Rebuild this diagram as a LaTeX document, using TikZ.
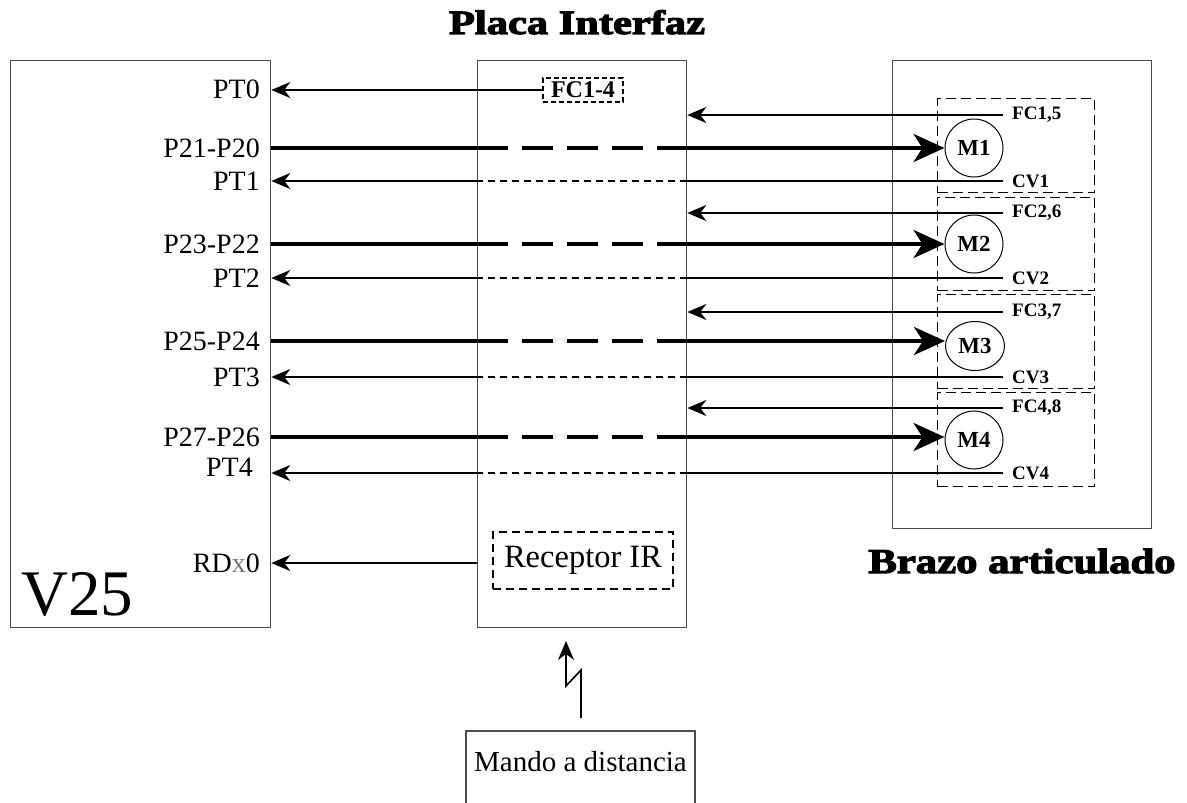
\documentclass[tikz,border=0pt]{standalone}
\usepackage{fontspec}
\usepackage{graphicx}
\setmainfont{Liberation Serif}
\newfontfamily\titlefont{Liberation Serif Bold}[FakeBold=3]
\usetikzlibrary{arrows.meta,shapes.geometric}
\newcommand\portfont{\fontsize{28}{30}\selectfont}
\newcommand\sigfont{\bfseries\fontsize{19}{21}\selectfont}
\newcommand\motfont{\bfseries\fontsize{23}{26}\selectfont}
\newcommand\fcfont{\bfseries\fontsize{24}{26}\selectfont}
\newcommand\recfont{\fontsize{32.5}{35}\selectfont}
\newcommand\manfont{\fontsize{29}{32}\selectfont}
\tikzset{
 frame/.style={draw=black!70, line width=1.3, inner sep=0, anchor=north west},
 port/.style={anchor=east, inner xsep=10, inner ysep=0, font=\portfont},
 sig/.style={anchor=west, inner xsep=9, inner ysep=0, font=\sigfont},
 thinw/.style={line width=1.8},
 thickw/.style={line width=3.4},
 thindash/.style={line width=1.1, dash pattern=on 7 off 5},
 thickdash/.style={line width=3.4, dash pattern=on 31 off 14},
 sarr/.style={-{Stealth[length=19,width=16,inset=6]}},
 barr/.style={-{Stealth[length=31,width=28,inset=9]}},
 motor/.style={draw, line width=1, circle, minimum size=58, inner sep=0, font=\motfont},
 mbox/.style={draw, line width=1.1, dash pattern=on 10 off 5, inner sep=0, anchor=north west, minimum width=157},
}
\begin{document}
\begin{tikzpicture}[x=1pt,y=-1pt]
\useasboundingbox (0,0) rectangle (1187,803);
% main frames
\node[frame, minimum width=260, minimum height=567] (v25) at (10,60) {};
\node[frame, minimum width=209, minimum height=567] (placa) at (477,60) {};
\node[frame, minimum width=259, minimum height=468] (brazo) at (892,60) {};
% titles
\node[anchor=base, inner sep=0, font=\titlefont\fontsize{34}{36}\selectfont] (tplaca) at (577,34) {\scalebox{1.25}[1]{Placa Interfaz}};
\node[anchor=base, inner sep=0, font=\titlefont\fontsize{35}{38}\selectfont] (tbrazo) at (1022,573) {\scalebox{1.22}[1]{Brazo articulado}};
\node[anchor=base west, inner sep=0, font=\fontsize{65}{70}\selectfont] (tv25) at (21,615) {V25};
% motor dashed boxes
\node[mbox, minimum height=94] (b1) at (937,98) {};
\node[mbox, minimum height=93] (b2) at (937,197) {};
\node[mbox, minimum height=94] (b3) at (937,294) {};
\node[mbox, minimum height=94] (b4) at (937,392) {};
% motors
\node[motor] (m1) at (974,148) {M1};
\node[motor] (m2) at (974,244) {M2};
\node[motor, ellipse, minimum width=59, minimum height=49] (m3) at (975,346) {M3};
\node[motor] (m4) at (974,440) {M4};
% FC1-4 and PT0
\node[draw, line width=1.5, dash pattern=on 5 off 3, minimum width=80, minimum height=24, inner sep=0, font=\fcfont] (fc14) at (583,90) {FC1-4};
\node[port] (pt0) at (270,89) {PT0};
\draw[thinw, sarr] (fc14.west) -- (v25.east |- fc14.west);
% signal labels
\node[sig] (f1) at (1003,115) {FC1,5};
\node[sig] (c1) at (1003,181) {CV1};
\node[sig] (f2) at (1003,213) {FC2,6};
\node[sig] (c2) at (1003,278) {CV2};
\node[sig] (f3) at (1003,312) {FC3,7};
\node[sig] (c3) at (1003,377) {CV3};
\node[sig] (f4) at (1003,408) {FC4,8};
\node[sig] (c4) at (1003,473) {CV4};
% port labels
\node[port] (p1) at (270,148) {P21-P20};
\node[port] (t1) at (270,181) {PT1};
\node[port] (p2) at (270,244) {P23-P22};
\node[port] (t2) at (270,278) {PT2};
\node[port] (p3) at (270,341) {P25-P24};
\node[port] (t3) at (270,377) {PT3};
\node[port] (p4) at (270,437) {P27-P26};
\node[port] (t4) at (263,467) {PT4};
% FC arrows
\foreach \f in {f1,f2,f3,f4}{
  \draw[thinw, sarr] (\f.west) -- (placa.east |- \f.west);
}
% CV / PT lines
\foreach \c in {c1,c2,c3,c4}{
  \draw[thinw] (\c.west) -- (placa.east |- \c.west);
  \draw[thindash] (placa.east |- \c.west) -- (placa.west |- \c.west);
  \draw[thinw, sarr] (placa.west |- \c.west) -- (v25.east |- \c.west);
}
% motor drive lines
\foreach \p/\m in {p1/m1,p2/m2,p3/m3,p4/m4}{
  \draw[thickw] (v25.east |- \p.east) -- (placa.west |- \p.east);
  \draw[thickdash] (placa.west |- \p.east) -- (placa.east |- \p.east);
  \draw[thickw, barr] (placa.east |- \p.east) -- (\m.west |- \p.east);
}
% receptor
\node[draw, line width=1.8, dash pattern=on 8 off 5, minimum width=180, minimum height=57, inner sep=0, font=\recfont] (rx) at (583,560.5) {Receptor IR};
\node[port] (rd) at (270,563) {RD{\color{black!55}x}0};
\draw[thinw, sarr] (placa.west |- rd.east) -- (v25.east |- rd.east);
% remote control
\draw[draw=black!70, line width=1.3] (466,806) -- (466,731) -- (695,731) -- (695,806);
\node[anchor=base, inner sep=0, font=\manfont] (mando) at (580.5,771) {Mando a distancia};
\coordinate (z0) at (581,718);
\coordinate (z1) at (581,670);
\coordinate (z2) at (566,686);
\coordinate (z3) at (566,641);
\draw[line width=1.6, sarr] (z0) -- (z1) -- (z2) -- (z3);
\end{tikzpicture}
\end{document}
